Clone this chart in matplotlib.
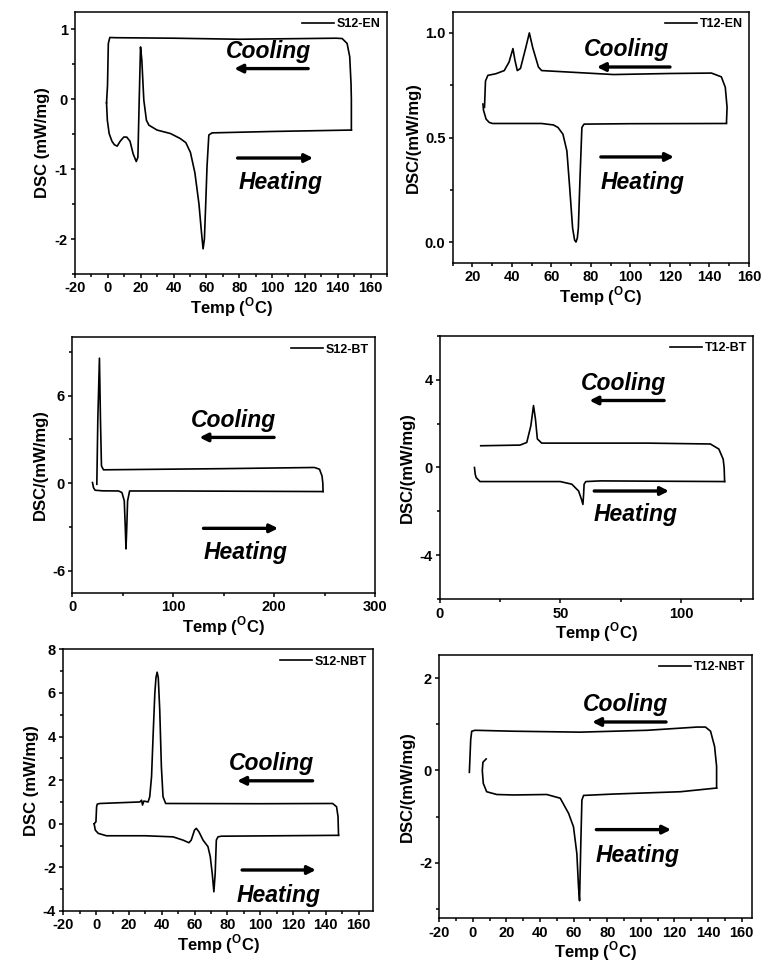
import matplotlib
matplotlib.use("Agg")
import matplotlib.pyplot as plt
from matplotlib.ticker import MultipleLocator

plt.rcParams["font.family"] = ["Liberation Sans", "DejaVu Sans"]
plt.rcParams["font.weight"] = "bold"
plt.rcParams["axes.unicode_minus"] = False
plt.rcParams["mathtext.fontset"] = "custom"
plt.rcParams["mathtext.rm"] = "Liberation Sans:bold"
plt.rcParams["mathtext.bf"] = "Liberation Sans:bold"

# * S12-EN
s12en_heat_T = [-0.8, -0.3, 0.8, 2.5, 4.0, 5.7, 7.5, 9.7, 11.5, 13.5, 15.4, 17.3, 18.3, 19.1, 19.9, 20.7,
                21.9, 23.5, 25.0, 30.0, 38.2, 44.0, 47.5, 50.3, 53.0, 55.5, 57.0, 58.0, 58.8, 59.6, 60.4,
                61.5, 63.5, 100.0, 147.7, 148.3]
s12en_heat_Q = [-0.05, -0.3, -0.49, -0.6, -0.65, -0.67, -0.6, -0.54, -0.54, -0.6, -0.78, -0.89, -0.83, -0.01,
                0.75, 0.56, -0.01, -0.3, -0.37, -0.44, -0.49, -0.56, -0.62, -0.76, -1.05, -1.5, -1.9, -2.14,
                -2.0, -1.5, -0.96, -0.51, -0.48, -0.46, -0.44, -0.44]
s12en_cool_T = [148.3, 148.3, 148.1, 147.3, 145.7, 142.7, 139.0, 120.0, 80.0, 40.0, 5.0, 1.2, 0.3, -0.2, -0.8]
s12en_cool_Q = [-0.44, 0.0, 0.22, 0.61, 0.8, 0.87, 0.875, 0.87, 0.86, 0.875, 0.882, 0.885, 0.8, 0.2, -0.05]

# * T12-EN
t12en_heat_T = [25.3, 25.6, 26.9, 28.5, 30.2, 55.0, 61.0, 63.3, 65.8, 67.8, 69.1, 70.7, 71.7, 72.4, 73.1,
                73.6, 74.5, 75.4, 76.5, 100.0, 148.6]
t12en_heat_Q = [0.66, 0.63, 0.588, 0.572, 0.567, 0.567, 0.56, 0.548, 0.516, 0.436, 0.276, 0.067, 0.01, 0.0,
                0.02, 0.067, 0.32, 0.548, 0.564, 0.566, 0.567]
t12en_cool_T = [148.6, 148.9, 148.0, 146.0, 141.0, 120.0, 91.4, 55.0, 53.4, 50.5, 48.8, 47.0, 44.3, 42.7,
                41.5, 40.5, 38.5, 36.1, 31.9, 27.8, 26.6, 26.1]
t12en_cool_Q = [0.572, 0.644, 0.74, 0.79, 0.808, 0.806, 0.801, 0.82, 0.837, 0.93, 1.0, 0.93, 0.83, 0.82,
                0.87, 0.925, 0.86, 0.82, 0.805, 0.797, 0.77, 0.644]

# * S12-BT
s12bt_heat_T = [20.0, 21.0, 22.6, 30.0, 45.9, 49.2, 51.5, 52.5, 53.2, 54.0, 54.8, 56.8, 100.0, 248.5]
s12bt_heat_Q = [0.05, -0.3, -0.48, -0.52, -0.53, -0.64, -1.2, -3.0, -4.5, -3.0, -1.2, -0.53, -0.53, -0.57]
s12bt_cool_T = [248.5, 248.3, 247.5, 245.0, 240.0, 150.0, 30.9, 28.9, 27.9, 26.9, 25.3, 24.3]
s12bt_cool_Q = [-0.57, 0.0, 0.5, 0.96, 1.08, 1.0, 0.92, 1.19, 4.4, 8.57, 4.4, -0.07]

# * T12-BT
t12bt_heat_T = [14.3, 14.6, 15.0, 16.6, 30.0, 49.9, 54.7, 57.5, 58.7, 59.3, 59.6, 59.8, 60.5, 66.5, 100.0, 118.1]
t12bt_heat_Q = [0.0, -0.3, -0.46, -0.64, -0.64, -0.64, -0.76, -1.07, -1.45, -1.68, -1.2, -0.76, -0.64, -0.61,
                -0.63, -0.64]
t12bt_cool_T = [118.1, 117.9, 117.5, 115.7, 112.2, 85.9, 42.2, 40.4, 39.6, 38.8, 37.7, 36.0, 33.2, 16.9]
t12bt_cool_Q = [-0.64, 0.0, 0.38, 0.84, 1.07, 1.11, 1.11, 1.3, 2.21, 2.82, 1.9, 1.14, 1.02, 0.99]

# * S12-NBT
s12nbt_heat_T = [-1.2, -0.5, 1.3, 6.3, 30.0, 46.9, 53.0, 56.6, 58.0, 60.0, 61.1, 62.7, 65.2, 68.2, 69.6,
                 70.8, 71.8, 72.6, 73.3, 74.3, 76.3, 147.8]
s12nbt_heat_Q = [0.0, -0.29, -0.44, -0.55, -0.55, -0.6, -0.75, -0.87, -0.75, -0.29, -0.21, -0.37, -0.75,
                 -1.05, -1.51, -2.28, -3.12, -2.28, -0.75, -0.6, -0.57, -0.53]
s12nbt_cool_T = [147.8, 147.5, 146.6, 144.2, 100.0, 42.4, 40.8, 39.8, 38.8, 37.9, 37.2, 36.5, 35.8, 34.8,
                 33.8, 32.7, 31.7, 29.1, 28.3, 27.7, 26.7, 2.3, 0.7, 0.3, -0.1, -1.2]
s12nbt_cool_Q = [-0.53, 0.32, 0.78, 0.93, 0.92, 0.93, 1.24, 2.61, 5.21, 6.7, 6.95, 6.7, 5.98, 4.14,
                 2.16, 1.24, 1.0, 1.04, 0.86, 1.08, 1.0, 0.93, 0.9, 0.78, 0.09, 0.0]

# * T12-NBT
t12nbt_heat_T = [7.9, 6.0, 5.6, 6.2, 8.2, 14.2, 24.1, 44.0, 52.0, 57.0, 59.9, 61.9, 62.9, 63.5, 64.3, 64.9,
                 65.9, 83.8, 123.6, 145.1]
t12nbt_heat_Q = [0.25, 0.18, 0.0, -0.28, -0.46, -0.52, -0.53, -0.52, -0.6, -0.93, -1.22, -1.8, -2.53, -2.82,
                 -1.51, -0.64, -0.54, -0.51, -0.46, -0.38]
t12nbt_cool_T = [145.1, 145.1, 143.9, 141.5, 138.5, 133.5, 103.7, 63.9, 24.1, 1.3, -0.7, -1.3, -2.1]
t12nbt_cool_Q = [-0.38, 0.09, 0.52, 0.85, 0.94, 0.94, 0.87, 0.83, 0.85, 0.87, 0.85, 0.67, -0.04]

W, H = 763, 964
fig = plt.figure(figsize=(W / 100, H / 100), dpi=100)
fig.patch.set_facecolor("white")


def px_axes(left, right, top, bottom):
    return fig.add_axes([left / W, 1 - bottom / H, (right - left) / W, (bottom - top) / H])


# ? (name, ylabel, axes pixels, xlim, ylim, x major/minor, y major/minor, heat, cool, text/arrow spots)
panels = [
    ("S12-EN", "DSC (mW/mg)", (75, 387, 12, 274), (-20, 170), (-2.5, 1.25), (20, 10), (1, 0.5),
     (s12en_heat_T, s12en_heat_Q), (s12en_cool_T, s12en_cool_Q),
     ((98, 0.68), (122, 77, 0.44), (105, -1.19), (79, 125, -0.84))),
    ("T12-EN", "DSC/(mW/mg)", (452.7, 749, 12, 263), (10, 160), (-0.1, 1.1), (20, 10), (0.5, 0.25),
     (t12en_heat_T, t12en_heat_Q), (t12en_cool_T, t12en_cool_Q),
     ((98, 0.92), (120, 83, 0.837), (106, 0.284), (85, 122, 0.407))),
    ("S12-BT", "DSC/(mW/mg)", (72.3, 375, 337.3, 592.7), (0, 300), (-7.5, 10), (100, 50), (6, 3),
     (s12bt_heat_T, s12bt_heat_Q), (s12bt_cool_T, s12bt_cool_Q),
     ((160, 4.28), (200, 126, 3.14), (172, -4.76), (130, 204, -3.09))),
    ("T12-BT", "DSC/(mW/mg)", (440, 753.3, 335.7, 599.3), (0, 130), (-6, 6), (50, 25), (4, 2),
     (t12bt_heat_T, t12bt_heat_Q), (t12bt_cool_T, t12bt_cool_Q),
     ((76, 3.81), (93, 62, 3.05), (81, -2.13), (64, 95, -1.07))),
    ("S12-NBT", "DSC (mW/mg)", (63.3, 373.3, 649.3, 911), (-20, 169), (-4, 8), (20, 10), (2, 1),
     (s12nbt_heat_T, s12nbt_heat_Q), (s12nbt_cool_T, s12nbt_cool_Q),
     ((107, 2.77), (132, 86, 1.97), (111, -3.27), (89, 134, -2.12))),
    ("T12-NBT", "DSC/(mW/mg)", (439.3, 751.7, 655, 918.3), (-20, 166), (-3.2, 2.5), (20, 10), (2, 1),
     (t12nbt_heat_T, t12nbt_heat_Q), (t12nbt_cool_T, t12nbt_cool_Q),
     ((91, 1.43), (115, 71, 1.05), (98, -1.84), (73.5, 118, -1.28))),
]

for name, ylabel, box, xlim, ylim, xt, yt, heat, cool, spots in panels:
    ax = px_axes(*box)
    ax.plot(heat[0], heat[1], color="black", lw=1.2, label=name)
    ax.plot(cool[0], cool[1], color="black", lw=1.2)
    ax.set_xlim(xlim)
    ax.set_ylim(ylim)
    ax.xaxis.set_major_locator(MultipleLocator(xt[0]))
    ax.xaxis.set_minor_locator(MultipleLocator(xt[1]))
    ax.yaxis.set_major_locator(MultipleLocator(yt[0]))
    ax.yaxis.set_minor_locator(MultipleLocator(yt[1]))
    ax.tick_params(which="both", direction="out", top=False, right=False, width=1.1)
    ax.tick_params(which="major", length=3.2, pad=2, labelsize=10.5)
    ax.tick_params(which="minor", length=2)
    for sp in ax.spines.values():
        sp.set_linewidth(1.1)
    ax.set_xlabel(r"Temp ($^{\mathrm{O}}$C)", fontsize=12, fontweight="bold", labelpad=0)
    ax.set_ylabel(ylabel, fontsize=12, fontweight="bold", labelpad=3)
    ax.legend(loc="upper right", frameon=False, fontsize=9, handlelength=2.6,
              handletextpad=0.2, borderaxespad=0.3, borderpad=0.2)

    # * Textos e setas de resfriamento / aquecimento
    (cx, cy), (ca0, ca1, cay), (hx, hy), (ha0, ha1, hay) = spots
    ax.text(cx, cy, "Cooling", fontsize=16.5, fontweight="bold", style="italic", ha="center", va="center")
    ax.text(hx, hy, "Heating", fontsize=16.5, fontweight="bold", style="italic", ha="center", va="center")
    arrow = dict(arrowstyle="-|>", color="black", lw=2.4, mutation_scale=12, shrinkA=0, shrinkB=0)
    ax.annotate("", xy=(ca1, cay), xytext=(ca0, cay), arrowprops=arrow)
    ax.annotate("", xy=(ha1, hay), xytext=(ha0, hay), arrowprops=arrow)

fig.savefig("out.png", dpi=100)
